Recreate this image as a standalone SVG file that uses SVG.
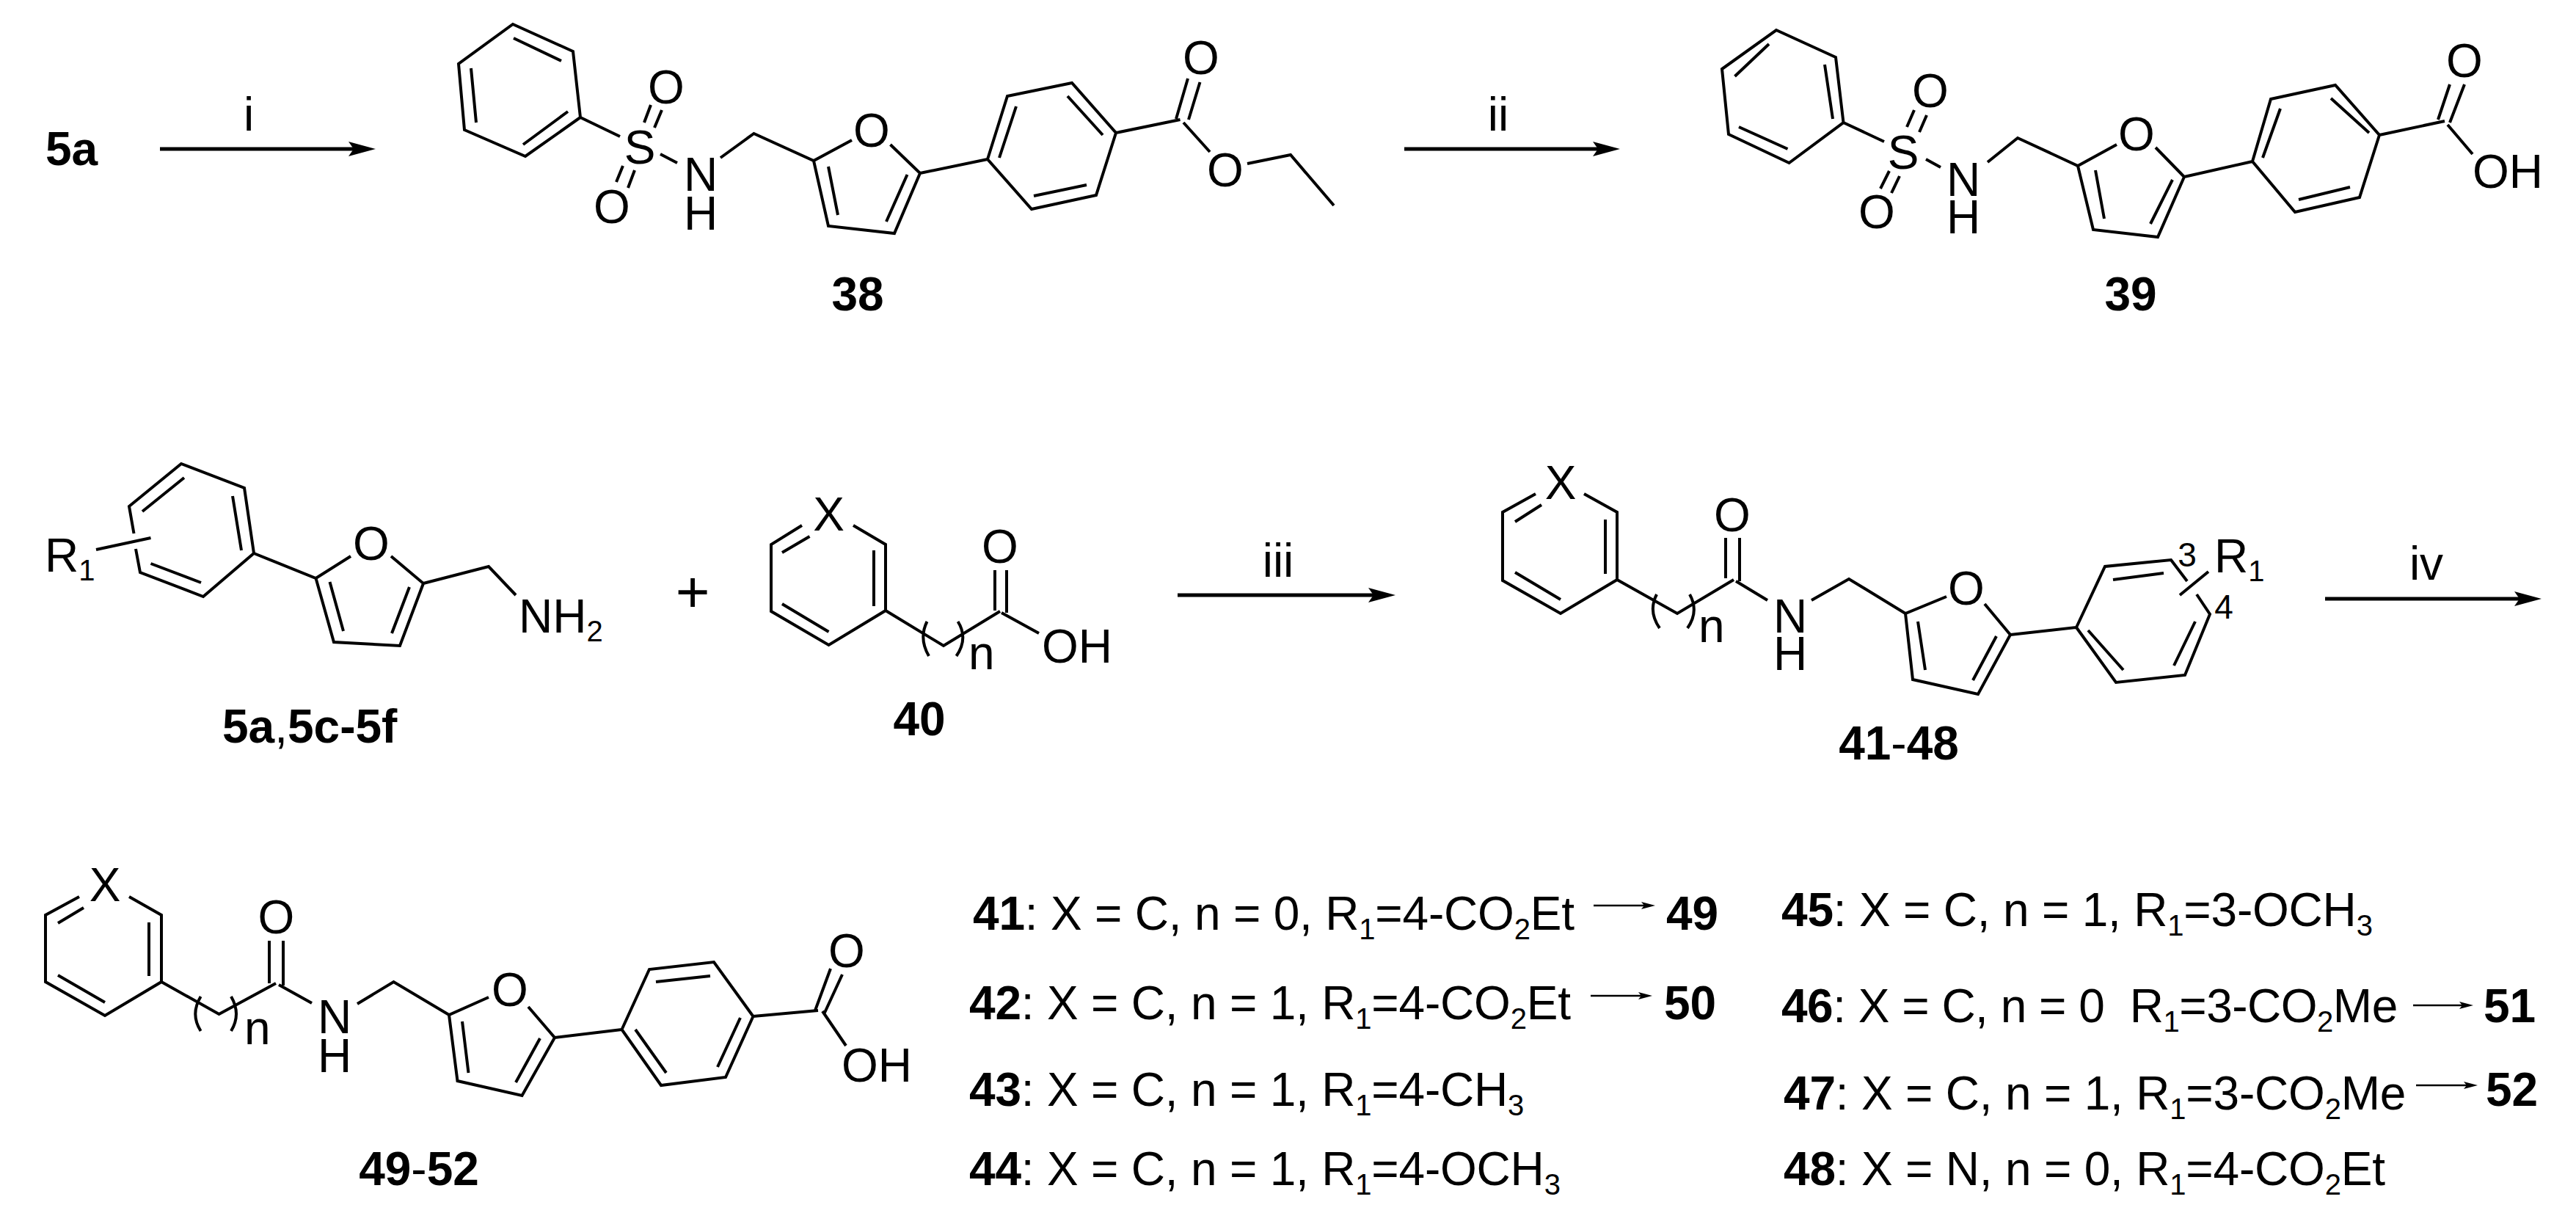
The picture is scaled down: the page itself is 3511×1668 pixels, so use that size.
<svg xmlns="http://www.w3.org/2000/svg" width="3511" height="1668" viewBox="0 0 3511 1668">
<style>
text{font-family:"Liberation Sans",Arial,sans-serif;fill:#000}
.t{font-size:64px}
.m{text-anchor:middle}
.b{font-weight:bold}
.s{font-size:40px}
.n{font-size:46px}
.l{letter-spacing:-0.2px}
.bond{fill:none;stroke:#000;stroke-width:4;stroke-linejoin:miter;stroke-linecap:butt}
.big{fill:none;stroke:#000;stroke-width:5;marker-end:url(#ah)}
.small{fill:none;stroke:#000;stroke-width:2.5;marker-end:url(#as)}
</style>
<defs>
<marker id="ah" markerUnits="userSpaceOnUse" viewBox="0 0 37 20" markerWidth="37" markerHeight="20" refX="7" refY="10" orient="auto"><path d="M37,10L0,0L7,10L0,20Z" fill="#000"/></marker>
<marker id="as" markerUnits="userSpaceOnUse" viewBox="0 0 19 10" markerWidth="19" markerHeight="10" refX="4" refY="5" orient="auto"><path d="M19,5L0,0L4,5L0,10Z" fill="#000"/></marker>
</defs>
<rect width="3511" height="1668" fill="#fff"/>

<g id="connectors">
<path class="big" d="M218,203H482"/>
<path class="big" d="M1914,203H2178"/>
<path class="big" d="M1605,811H1872"/>
<path class="big" d="M3169,816H3434"/>
<path class="small" d="M2172,1234H2241"/>
<path class="small" d="M2168,1357H2237"/>
<path class="small" d="M3289,1370H3356"/>
<path class="small" d="M3293,1479H3362"/>
<g id="reagents">
<text class="t m" x="339" y="178">i</text>
<text class="t m" x="2042" y="178">ii</text>
<text class="t m" x="1742" y="786">iii</text>
<text class="t m" x="3307" y="790">iv</text>
<text class="t m" style="font-size:80px" x="944" y="834">+</text>
</g>
</g>

<g id="n5a"><text class="t b" x="62" y="225">5a</text></g>

<g id="n38">
<path class="bond" d="M699,33L781,70L791,160L716,213L633,177L625,87ZM700,52L765,83M642,93L649,167M774,152L713,197M791,160L845,186M887,143L878,167M902,150L892,174M849,226L840,248M865,232L856,256M900,210L923,222M982,215L1027.5,182L1109,219L1161,191M1213.5,197L1254,236L1219,318L1129,308L1109,219M1129,227L1142,293M1236.5,238L1208,302M1254,236L1346,217M1346,217L1373,131L1461,113L1521,181L1494,266L1406,285ZM1385,145L1362,215M1455,131L1503,184M1481,252L1409,267M1521,181L1608.5,163M1619,107L1603,162M1635.5,112L1620,163M1613,167L1649,207M1700,223L1759,211L1818,280"/>
<text class="t m" x="872" y="223">S</text><text class="t m" x="908" y="141">O</text><text class="t m" x="834" y="304">O</text><text class="t m" x="955" y="260">N</text><text class="t m" x="955" y="313">H</text><text class="t m" x="1188" y="200">O</text><text class="t m" x="1637" y="101">O</text><text class="t m" x="1670" y="254">O</text>
<text class="t b m" x="1169" y="423">38</text>
</g>

<g id="n39">
<path class="bond" d="M2421,41L2502,78L2512.5,167L2438.5,222L2356,183L2347,94ZM2411,60L2364.5,104M2487,88L2498,162M2436.5,203L2370,173M2512.5,167L2568,193M2609,150L2599,173M2626,157L2616,180M2575,233L2563,257M2589,240L2578,263M2625,217L2645,228M2709,221L2750,188L2832,226L2885,197M2938,201L2977,241L2941,323L2853,313L2832,226M2856,232L2868,298M2961,245L2931,305M2977,241L3070,220M3070,220L3095,135L3183,116L3243,184L3216,269L3128,289ZM3108,148L3084,215M3177,134L3229,181M3203,255L3133,272M3243,184L3332,165M3323,163L3339,115M3339,167L3359,115M3336,170L3370,210"/>
<text class="t m" x="2594" y="230">S</text><text class="t m" x="2631" y="146">O</text><text class="t m" x="2558" y="311">O</text><text class="t m" x="2676" y="267">N</text><text class="t m" x="2676" y="318">H</text><text class="t m" x="2912" y="205">O</text><text class="t m" x="3359" y="105">O</text><text class="t" x="3370" y="256">OH</text>
<text class="t b m" x="2904" y="423">39</text>
</g>

<g id="n5">
<path class="bond" d="M182.5,727L176,690L247,632L333,665L346,754L277,813L191,780L185,748M251,651L194,697M317,676L329,750M274,794L205.5,768M131,749L205.5,733M346,754L430.5,788L478,758M533,758L577,795L545,880L455,875L430.5,788M449.5,793L468,860M558,800L534,863M577,795L666,772L703,811"/>
<text class="t" x="61" y="779">R<tspan class="s" dy="12">1</tspan></text>
<text class="t m" x="506" y="763">O</text>
<text class="t" x="707" y="862">NH<tspan class="s" dy="12">2</tspan></text>
<text class="t" x="303" y="1012"><tspan class="b">5a</tspan>,<tspan class="b">5c-5f</tspan></text>
</g>

<g id="n40">
<path class="bond" d="M1093,716L1051,742V833L1129.5,879L1207,832V742L1163,716M1103.5,731L1066,753M1191,750V826M1066,823L1129.5,861M1207,832L1286,880L1363,833M1356,777V832M1372,777V835M1365,835L1416,863M1263.5,847Q1252,870 1266,894M1305.6,847Q1320,870 1303.5,894"/>
<text class="t m" x="1129.5" y="723">X</text><text class="t m" x="1363" y="767">O</text><text class="t" x="1320" y="912">n</text><text class="t" x="1420" y="903">OH</text>
<text class="t b m" x="1253" y="1002">40</text>
</g>

<g id="n41-48">
<path class="bond" d="M2093,673L2048,698V791L2127,836L2204,790V698L2159,673M2101,688L2065,711M2188,708V782M2065,780L2127,817M2204,790L2286,836L2363,790M2352,733V788M2371,733V792M2366,792L2409,818M2469,818L2520,789L2597,836L2653,813M2705,823L2740,865L2696,946L2607,926L2597,836M2614,847L2624,913M2721,867L2689,927M2740,865L2830,855L2869,772L2959,763L2981,792M2994,810L3012,837L2978,920L2884,930L2830,855M2949,781L2880,790M2992,847L2963,907M2894,913L2846,859M3010,779L2971,811M2258,810Q2246,833 2262,856M2303,810Q2316,833 2300,856"/>
<text class="t m" x="2127" y="680">X</text><text class="t m" x="2361" y="724">O</text><text class="t" x="2315" y="875">n</text><text class="t m" x="2440" y="862">N</text><text class="t m" x="2440" y="913">H</text><text class="t m" x="2680" y="824">O</text>
<text class="n m" x="2981" y="772">3</text>
<text class="n m" x="3031" y="843">4</text>
<text class="t" x="3018" y="780">R<tspan class="s" dy="12">1</tspan></text>
<text class="t b m" x="2588" y="1035">41<tspan style="font-weight:normal">-</tspan>48</text>
</g>

<g id="n49-52">
<path class="bond" d="M108,1222L62,1247V1338L143,1384L220,1338V1247L176,1222M114,1237L79,1258M203,1257V1330M79,1329L143,1366M220,1338L298.5,1382L376,1340M367,1282V1340M386,1282V1343M380,1342L425,1367M487,1368L536.5,1338L612,1383L666,1359M720,1372L756,1414L711.5,1493L623.5,1473L612,1383M630,1392L638.5,1462M736,1415L703,1475M756,1414L847.5,1403M847.5,1403L885,1321L973,1311L1026.5,1385L989,1468L901,1479ZM968,1330L894,1338M1009,1387L978,1454M908,1462L866,1403M1026.5,1385L1115,1377M1132,1320L1111,1377M1148,1328L1124,1380M1121,1378L1153,1425M273.6,1358Q259,1382 273.6,1405M315,1358Q329,1382 315,1405"/>
<text class="t m" x="143" y="1228">X</text><text class="t m" x="376.5" y="1272">O</text><text class="t" x="333" y="1423">n</text><text class="t m" x="456" y="1408">N</text><text class="t m" x="456" y="1461">H</text><text class="t m" x="695" y="1371">O</text><text class="t m" x="1154" y="1318">O</text><text class="t" x="1147" y="1474">OH</text>
<text class="t b m" x="571" y="1615">49<tspan style="font-weight:normal">-</tspan>52</text>
</g>

<g id="legend">
<text class="t l" x="1326" y="1267"><tspan class="b">41</tspan>: X = C, n = 0, R<tspan class="s" dy="13">1</tspan><tspan dy="-13">=4-CO</tspan><tspan class="s" dy="13">2</tspan><tspan dy="-13">Et</tspan></text>
<text class="t l" x="1321" y="1389"><tspan class="b">42</tspan>: X = C, n = 1, R<tspan class="s" dy="13">1</tspan><tspan dy="-13">=4-CO</tspan><tspan class="s" dy="13">2</tspan><tspan dy="-13">Et</tspan></text>
<text class="t l" x="1321" y="1507"><tspan class="b">43</tspan>: X = C, n = 1, R<tspan class="s" dy="13">1</tspan><tspan dy="-13">=4-CH</tspan><tspan class="s" dy="13">3</tspan></text>
<text class="t l" x="1321" y="1615"><tspan class="b">44</tspan>: X = C, n = 1, R<tspan class="s" dy="13">1</tspan><tspan dy="-13">=4-OCH</tspan><tspan class="s" dy="13">3</tspan></text>
<text class="t l" x="2428" y="1262"><tspan class="b">45</tspan>: X = C, n = 1, R<tspan class="s" dy="13">1</tspan><tspan dy="-13">=3-OCH</tspan><tspan class="s" dy="13">3</tspan></text>
<text class="t" style="letter-spacing:-0.5px" x="2428" y="1393" xml:space="preserve"><tspan class="b">46</tspan>: X = C, n = 0  R<tspan class="s" dy="13">1</tspan><tspan dy="-13">=3-CO</tspan><tspan class="s" dy="13">2</tspan><tspan dy="-13">Me</tspan></text>
<text class="t l" x="2431" y="1512"><tspan class="b">47</tspan>: X = C, n = 1, R<tspan class="s" dy="13">1</tspan><tspan dy="-13">=3-CO</tspan><tspan class="s" dy="13">2</tspan><tspan dy="-13">Me</tspan></text>
<text class="t l" x="2431" y="1615"><tspan class="b">48</tspan>: X = N, n = 0, R<tspan class="s" dy="13">1</tspan><tspan dy="-13">=4-CO</tspan><tspan class="s" dy="13">2</tspan><tspan dy="-13">Et</tspan></text>
<text class="t b" x="2271" y="1267">49</text>
<text class="t b" x="2268" y="1389">50</text>
<text class="t b" x="3385" y="1393">51</text>
<text class="t b" x="3388" y="1507">52</text>
</g>
</svg>
